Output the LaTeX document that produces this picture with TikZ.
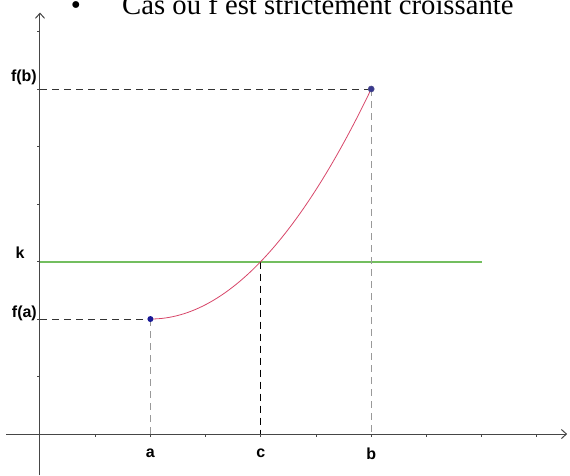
\documentclass[tikz,border=0pt]{standalone}
\usepackage{fontspec}
\setmainfont{Liberation Serif}
\newfontfamily\lblfont{Liberation Sans}
\usetikzlibrary{arrows.meta}
\definecolor{axegris}{RGB}{70,70,70}
\definecolor{vertk}{RGB}{115,190,95}
\definecolor{rosecourbe}{RGB}{215,70,105}
\definecolor{bleupoint}{RGB}{25,25,150}
\begin{document}
\begin{tikzpicture}[x=55.2pt,y=57.5pt,
  axe/.style={axegris,line width=1pt,-{Straight Barb[length=5pt,width=9pt]}},
  lbl/.style={font=\lblfont\bfseries\fontsize{16}{16}\selectfont,inner sep=0pt},
  pointfonce/.style={black!80,line width=0.9pt,dash pattern=on 7pt off 5pt},
  pointclair/.style={black!40,line width=0.8pt,dash pattern=on 7pt off 5pt}]
\useasboundingbox (-0.7246,-0.713) rectangle (9.601,7.548);
% titre (coupe en haut)
\node[anchor=base,font=\fontsize{28.7}{30}\selectfont] (puce) at (0.652,7.304) {\textbullet};
\node[anchor=base west,font=\fontsize{28.7}{30}\selectfont,inner sep=0pt] (titre) at (1.486,7.304) {Cas où f est strictement croissante};
% axes
\draw[axe] (-0.61,0) -- (9.55,0);
\draw[axe] (0,-0.72) -- (0,7.33);
\foreach \i in {1,...,9} \draw[axegris,line width=0.8pt] (\i,0) -- (\i,-0.05);
\foreach \j in {1,...,7} \draw[axegris,line width=0.8pt] (0,\j) -- (-0.06,\j);
% points
\coordinate (A) at (2,2);
\coordinate (B) at (6,6);
\coordinate (C) at (4,3);
\coordinate (ya) at (0,2);
\coordinate (yb) at (0,6);
\coordinate (xa) at (2,0);
\coordinate (xb) at (6,0);
\coordinate (xc) at (4,0);
% droite y = k
\draw[vertk,line width=2pt] (0,3) -- (8,3);
% pointilles
\draw[pointfonce] (yb) -- (B);
\draw[pointfonce] (ya) -- (A);
\draw[pointclair] (A) -- (xa);
\draw[pointclair] (B) -- (xb);
\draw[black,line width=1pt,dash pattern=on 7pt off 5pt] (C) -- (xc);
% courbe
\draw[rosecourbe,line width=0.8pt] plot[domain=2:6,samples=60] (\x,{2+(\x-2)^2/4});
\fill[bleupoint] (A) circle (3pt);
\fill[bleupoint!70!gray,draw=bleupoint!50!gray,line width=0.6pt] (B) circle (3pt);
% etiquettes
\node[lbl,anchor=east] (lfb) at (-0.054,6.21) {f(b)};
\node[lbl] (lk) at (-0.362,3.148) {k};
\node[lbl,anchor=east] (lfa) at (-0.054,2.104) {f(a)};
\node[lbl] (la) at (2,-0.339) {a};
\node[lbl] (lc) at (4,-0.339) {c};
\node[lbl] (lb) at (6,-0.339) {b};
\end{tikzpicture}
\end{document}
